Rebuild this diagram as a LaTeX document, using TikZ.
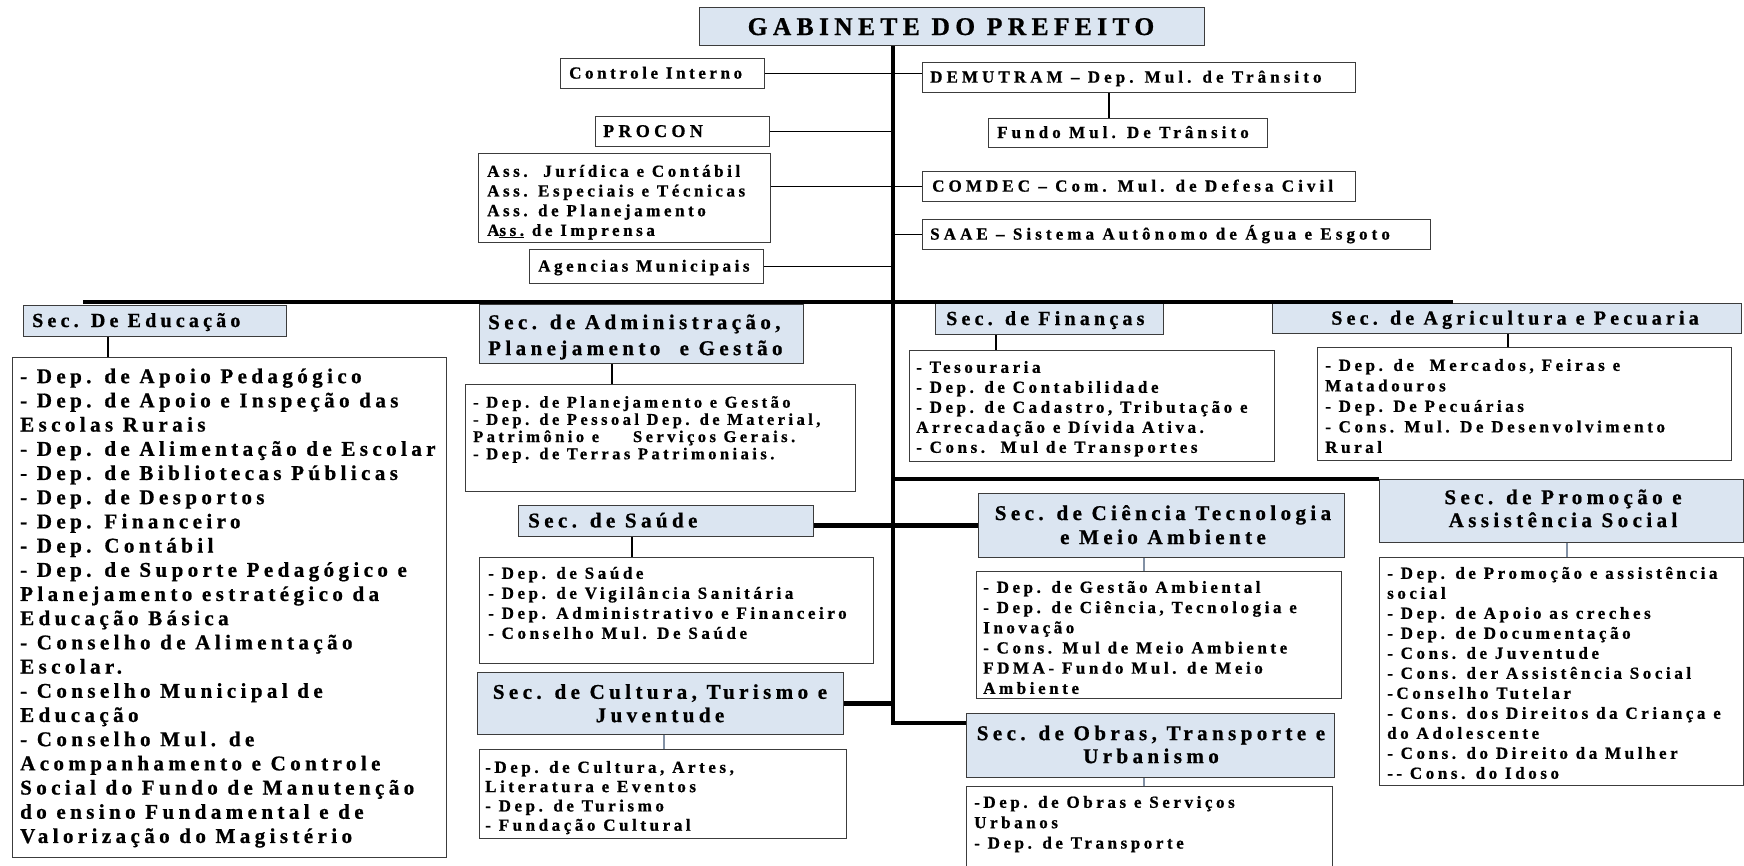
\documentclass[tikz,border=0pt]{standalone}
\usepackage{fontspec}
\setmainfont{Liberation Serif}[LetterSpace=21,BoldFeatures={FakeBold=0.8}]
\newfontfamily\widefam{Liberation Serif}[LetterSpace=24,BoldFeatures={FakeBold=0.8}]
\definecolor{hdrfill}{RGB}{219,229,241}
\definecolor{bord}{RGB}{60,60,60}
\definecolor{glink}{RGB}{130,145,165}
\newcommand\myfs[2]{\fontsize{#1}{#2}\selectfont\bfseries}
\newcommand\mywfs[2]{\widefam\fontsize{#1}{#2}\selectfont\bfseries}
\begin{document}
\begin{tikzpicture}[x=1pt,y=-1pt,
 box/.style={draw=bord,line width=1.4pt,fill=white,inner sep=0pt,anchor=north west},
 hbox/.style={box,fill=hdrfill},
 tl/.style={anchor=north west,inner sep=0pt,align=left},
 tc/.style={anchor=north,inner sep=0pt,align=center},
 tb/.style={anchor=base west,inner sep=0pt},
 tbc/.style={anchor=base,inner sep=0pt},
 bus/.style={line width=4.5pt,black},
 link/.style={line width=1.3pt,black},
 glk/.style={line width=1.3pt,glink}]
\useasboundingbox (0,0) rectangle (1744,865);
\clip (0,0) rectangle (1744,865);
\fill[white] (0,0) rectangle (1744,865);

% ---------- boxes ----------
\node[hbox,minimum width=505pt,minimum height=38pt] (gab) at (699,7) {};
\node[box,minimum width=204pt,minimum height=30pt] (ctl) at (560,58) {};
\node[box,minimum width=174pt,minimum height=30pt] (pro) at (595,116) {};
\node[box,minimum width=292pt,minimum height=89pt] (ass) at (478,153) {};
\node[box,minimum width=234pt,minimum height=34pt] (age) at (529,249) {};
\node[box,minimum width=433pt,minimum height=30pt] (dem) at (922,62) {};
\node[box,minimum width=279pt,minimum height=29pt] (fun) at (988,118) {};
\node[box,minimum width=433pt,minimum height=30pt] (com) at (922,171) {};
\node[box,minimum width=508pt,minimum height=30pt] (saae) at (922,219) {};

\node[hbox,minimum width=263pt,minimum height=31pt] (edh) at (23,305) {};
\node[box,minimum width=434pt,minimum height=500pt] (edd) at (12,357) {};
\node[hbox,minimum width=324pt,minimum height=59pt] (adh) at (479,304) {};
\node[box,minimum width=390pt,minimum height=107pt] (add) at (465,384) {};
\node[hbox,minimum width=295pt,minimum height=31pt] (sah) at (518,505) {};
\node[box,minimum width=394pt,minimum height=106pt] (sad) at (479,557) {};
\node[hbox,minimum width=366pt,minimum height=62pt] (cuh) at (477,672) {};
\node[box,minimum width=367pt,minimum height=89pt] (cud) at (479,749) {};
\node[hbox,minimum width=228pt,minimum height=31pt] (fih) at (935,303) {};
\node[box,minimum width=365pt,minimum height=111pt] (fid) at (909,350) {};
\node[hbox,minimum width=469pt,minimum height=30pt] (agh) at (1272,303) {};
\node[box,minimum width=414pt,minimum height=113pt] (agd) at (1317,347) {};
\node[hbox,minimum width=366pt,minimum height=64pt] (cih) at (978,493) {};
\node[box,minimum width=365pt,minimum height=127pt] (cid) at (976,571) {};
\node[hbox,minimum width=368pt,minimum height=64pt] (obh) at (966,713) {};
\node[box,minimum width=366pt,minimum height=110pt] (obd) at (966,786) {};
\node[hbox,minimum width=364pt,minimum height=63pt] (prh) at (1379,479) {};
\node[box,minimum width=364pt,minimum height=228pt] (prd) at (1379,557) {};

% ---------- coordinates ----------
\coordinate (sp) at (893,723);
\coordinate (busL) at (83,302);
\coordinate (busR) at (1453,302);
\coordinate (kf) at (1109,0);
\coordinate (ke) at (108,0);
\coordinate (ka) at (612,0);
\coordinate (ks) at (632,0);
\coordinate (kc) at (664,0);
\coordinate (kfi) at (996,0);
\coordinate (kag) at (1508,0);
\coordinate (kci) at (1144,0);
\coordinate (kpr) at (1567,0);

% ---------- thick connectors ----------
\draw[bus,line join=miter] (gab.south -| sp) -- (sp) -- (obh.west |- sp);
\draw[bus] (busL) -- (busR);
\draw[bus] (sp |- prh.north west) -- (prh.north west);
\draw[bus] (sah.east |- cih.west) -- (cih.west);
\draw[bus] (cuh.east) -- (cuh.east -| sp);

% ---------- thin connectors ----------
\draw[link] (ctl.east) -- (dem.west |- ctl.east);
\draw[link] (pro.east) -- (pro.east -| sp);
\draw[link] (ass.east |- com.west) -- (com.west);
\draw[link] (sp |- saae.west) -- (saae.west);
\draw[link] (age.east) -- (age.east -| sp);
\draw[link] (dem.south -| kf) -- (fun.north -| kf);
\draw[link] (edh.south -| ke) -- (edd.north -| ke);
\draw[link] (adh.south -| ka) -- (add.north -| ka);
\draw[link] (sah.south -| ks) -- (sad.north -| ks);
\draw[glk] (cuh.south -| kc) -- (cud.north -| kc);
\draw[link] (fih.south -| kfi) -- (fid.north -| kfi);
\draw[link] (agh.south -| kag) -- (agd.north -| kag);
\draw[glk] (cih.south -| kci) -- (cid.north -| kci);
\draw[glk] (obh.south -| kci) -- (obd.north -| kci);
\draw[glk] (prh.south -| kpr) -- (prd.north -| kpr);

% ---------- texts ----------
\node[tbc,font=\myfs{25.5}{30}] (gabt) at (951,35) {GABINETE DO PREFEITO};
\node[tb,font=\myfs{17}{20}] (ctlt) at (569,78.6) {Controle Interno};
\node[tb,font=\mywfs{18}{20}] (prot) at (603,137) {PROCON};
\node[tl,font=\myfs{17}{19.7}] (asst) at (487,162.8) {\strut Ass.\ \ Jurídica e Contábil\\Ass. Especiais e Técnicas\\Ass. de Planejamento\\A\underline{ss.} de Imprensa};
\node[tb,font=\myfs{17}{20}] (aget) at (538,271.6) {Agencias Municipais};
\node[tb,font=\mywfs{17}{20}] (demt) at (930,82.6) {DEMUTRAM – Dep. Mul. de Trânsito};
\node[tb,font=\mywfs{17}{20}] (funt) at (997,138) {Fundo Mul. De Trânsito};
\node[tb,font=\mywfs{17}{20}] (comt) at (932,191.6) {COMDEC – Com. Mul. de Defesa Civil};
\node[tb,font=\mywfs{17}{20}] (saaet) at (930,239.6) {SAAE – Sistema Autônomo de Água e Esgoto};

\node[tb,font=\myfs{20}{24}] (edht) at (32,327) {Sec. De Educação};
\node[tl,font=\myfs{21}{26}] (adht) at (488,310.7) {\strut Sec. de Administração,\\Planejamento\ \ e Gestão};
\node[tb,font=\myfs{21}{24}] (saht) at (528,527.4) {Sec. de Saúde};
\node[tc,font=\myfs{21}{23.3}] (cuht) at (660,682.3) {\strut Sec. de Cultura, Turismo e\\Juventude};
\node[tb,font=\myfs{20}{24}] (fiht) at (946,325) {Sec. de Finanças};
\node[tbc,font=\myfs{20}{24}] (aght) at (1515,324.6) {Sec. de Agricultura e Pecuaria};
\node[tc,font=\myfs{21}{24}] (ciht) at (1163,503) {\strut Sec. de Ciência Tecnologia\\e Meio Ambiente};
\node[tc,font=\myfs{21}{23}] (obht) at (1151,723.8) {\strut Sec. de Obras, Transporte e\\Urbanismo};
\node[tc,font=\myfs{21}{23}] (prht) at (1563,487.8) {\strut Sec. de Promoção e\\Assistência Social};

\node[tl,font=\myfs{21}{24.2}] (eddt) at (20,366) {\strut - Dep. de Apoio Pedagógico\\- Dep. de Apoio e Inspeção das\\Escolas Rurais\\- Dep. de Alimentação de Escolar\\- Dep. de Bibliotecas Públicas\\- Dep. de Desportos\\- Dep. Financeiro\\- Dep. Contábil\\- Dep. de Suporte Pedagógico e\\Planejamento estratégico da\\Educação Básica\\- Conselho de Alimentação\\Escolar.\\- Conselho Municipal de\\Educação\\- Conselho Mul. de\\Acompanhamento e Controle\\Social do Fundo de Manutenção\\do ensino Fundamental e de\\Valorização do Magistério};
\node[tl,font=\myfs{16.5}{17.2}] (addt) at (473,395.4) {\strut - Dep. de Planejamento e Gestão\\- Dep. de Pessoal Dep. de Material,\\Patrimônio e\hspace{34pt}Serviços Gerais.\\- Dep. de Terras Patrimoniais.};
\node[tl,font=\myfs{17}{20}] (sadt) at (488,564.6) {\strut - Dep. de Saúde\\- Dep. de Vigilância Sanitária\\- Dep. Administrativo e Financeiro\\- Conselho Mul. De Saúde};
\node[tl,font=\myfs{17}{19.3}] (cudt) at (485,759.1) {\strut -Dep. de Cultura, Artes,\\Literatura e Eventos\\- Dep. de Turismo\\- Fundação Cultural};
\node[tl,font=\myfs{17}{20}] (fidt) at (916,358.6) {\strut - Tesouraria\\- Dep. de Contabilidade\\- Dep. de Cadastro, Tributação e\\Arrecadação e Dívida Ativa.\\- Cons.\ \ Mul de Transportes};
\node[tl,font=\myfs{17}{20.5}] (agdt) at (1325,356.3) {\strut - Dep. de\ \ Mercados, Feiras e\\Matadouros\\- Dep. De Pecuárias\\- Cons. Mul. De Desenvolvimento\\Rural};
\node[tl,font=\myfs{17}{20.2}] (cidt) at (983,578.5) {\strut - Dep. de Gestão Ambiental\\- Dep. de Ciência, Tecnologia e\\Inovação\\- Cons. Mul de Meio Ambiente\\FDMA- Fundo Mul. de Meio\\Ambiente};
\node[tl,font=\myfs{17}{20.4}] (obdt) at (974,793.3) {\strut -Dep. de Obras e Serviços\\Urbanos\\- Dep. de Transporte};
\node[tl,font=\myfs{17}{20}] (prdt) at (1387,564.6) {\strut - Dep. de Promoção e assistência\\social\\- Dep. de Apoio as creches\\- Dep. de Documentação\\- Cons. de Juventude\\- Cons. der Assistência Social\\-Conselho Tutelar\\- Cons. dos Direitos da Criança e\\do Adolescente\\- Cons. do Direito da Mulher\\-{}- Cons. do Idoso};
\end{tikzpicture}
\end{document}
